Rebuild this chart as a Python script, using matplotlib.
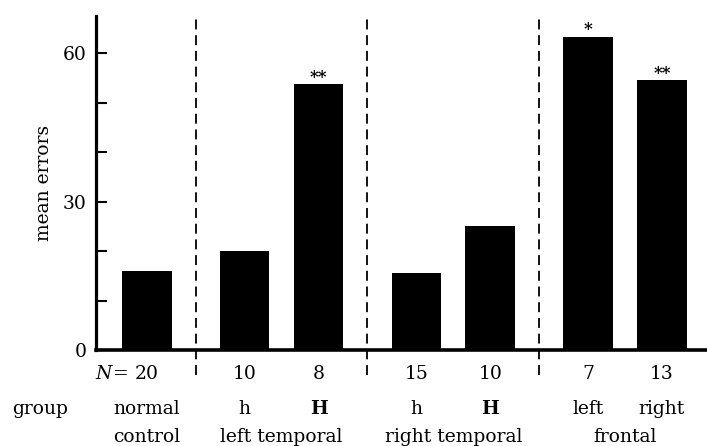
import matplotlib.pyplot as plt

plt.rcParams['font.family'] = ['DejaVu Serif']
plt.rcParams['mathtext.fontset'] = 'dejavuserif'

# data
n_values = [20, 10, 8, 15, 10, 7, 13]
mean_errors = [16, 20, 53.7, 15.6, 25, 63.3, 54.5]
stars = ['', '', '**', '', '', '*', '**']
sub_labels = ['normal', 'h', 'H', 'h', 'H', 'left', 'right']
sub_bold = [False, False, True, False, True, False, False]
group_names = ['control', 'left temporal', 'right temporal', 'frontal']
group_sizes = [1, 2, 2, 2]
ytick_values = [0, 10, 20, 30, 40, 50, 60]
ytick_labels = ['0', '', '', '30', '', '', '60']

FS = 13.5

# bar positions: one unit inside a group, bigger step between groups
group_gap = 1.32
positions = []
group_centers = []
dividers = []
x = 0.0
for gi, size in enumerate(group_sizes):
    if gi > 0:
        dividers.append(x - 1 + group_gap / 2)
        x = x - 1 + group_gap
    start = x
    for k in range(size):
        positions.append(x)
        x += 1
    group_centers.append((start + x - 1) / 2)

fig = plt.figure(figsize=(7.07, 4.46), dpi=100)
ax = fig.add_axes([0.1358, 0.2152, 0.8642, 0.7489])

ax.bar(positions, mean_errors, width=0.67, color='black')

for xp, val, s in zip(positions, mean_errors, stars):
    if s:
        ax.annotate(s, (xp, val), xytext=(0, -1), textcoords='offset points',
                    ha='center', va='bottom', fontsize=12, fontweight='bold')

# dashed separators between groups
for d in dividers:
    ax.plot([d, d], [-5.0, 68.0], color='black', lw=1.3,
            linestyle=(0, (5.5, 3.2)), clip_on=False)

ax.set_xlim(-0.69, 7.57)
ax.set_ylim(0, 67.5)
ax.set_yticks(ytick_values)
ax.set_yticklabels(ytick_labels, fontsize=FS)
ax.set_xticks([])
ax.tick_params(axis='y', direction='in', length=8, width=1.5, pad=6.5)
ax.set_ylabel('mean errors', fontsize=FS, labelpad=7)

for side in ['top', 'right']:
    ax.spines[side].set_visible(False)
ax.spines['left'].set_linewidth(2.3)
ax.spines['bottom'].set_linewidth(2.6)

# rows of labels under the axis
trans = ax.get_xaxis_transform()
for xp, n in zip(positions, n_values):
    ax.text(xp, -0.087, str(n), transform=trans, ha='center', va='baseline', fontsize=FS)
ax.annotate(r'$N\!=$', (positions[0], -0.087), xycoords=trans, xytext=(-13.5, 0),
            textcoords='offset points', ha='right', va='baseline', fontsize=FS)

for xp, lab, b in zip(positions, sub_labels, sub_bold):
    ax.text(xp, -0.192, lab, transform=trans, ha='center', va='baseline',
            fontsize=FS, fontweight='bold' if b else 'normal')

for xc, name in zip(group_centers, group_names):
    ax.text(xc, -0.275, name, transform=trans, ha='center', va='baseline', fontsize=FS)

fig.text(0.017, 1 - 414 / 446, 'group', ha='left', va='baseline', fontsize=FS)

fig.savefig('out.png', dpi=100)
